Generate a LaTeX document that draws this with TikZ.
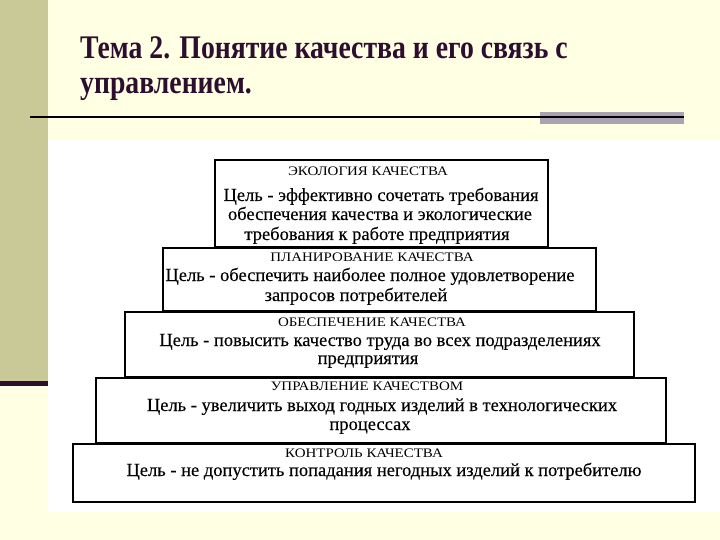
\documentclass[tikz,border=0pt]{standalone}
\usepackage{fontspec}
\setmainfont{Liberation Serif}
\newfontfamily\titlefont{Liberation Serif}[FakeStretch=0.84]
\newfontfamily\bodyfont{Liberation Serif}[FakeBold=0.2]
\newfontfamily\headfont{Liberation Serif}[FakeStretch=1.15]
\definecolor{pagebg}{HTML}{FFFFE3}
\definecolor{sidebar}{HTML}{C9C998}
\definecolor{darkplum}{HTML}{2E0E2E}
\definecolor{graybar}{HTML}{A9A2B2}
\tikzset{
  lvl/.style={draw=black, line width=2pt, fill=white, inner sep=0pt},
  headtxt/.style={anchor=base, inner sep=0pt, font=\headfont\fontsize{13}{15}\selectfont},
  bodytxt/.style={anchor=base, inner sep=0pt, font=\bodyfont\fontsize{18.5}{20}\selectfont},
  titletxt/.style={anchor=base west, inner sep=0pt, text=darkplum, font=\titlefont\bfseries\fontsize{33}{35}\selectfont}
}
\begin{document}
\begin{tikzpicture}[x=1pt, y=-1pt]
\useasboundingbox (0,0) rectangle (720,540);
% background
\fill[pagebg] (0,0) rectangle (720,540);
\fill[sidebar] (0,0) rectangle (48,381);
\fill[darkplum] (0,381) rectangle (48,386);
\fill[white] (48,140) rectangle (720,512);
% title rule
\fill[graybar] (540,112) rectangle (684,124);
\draw[line width=2pt, black] (30,117) -- (684,117);
% title
\node[titletxt] (t1) at (80,59) {Тема 2. Понятие качества и его связь с};
\node[titletxt] (t2) at (80,94) {управлением.};
% boxes
\draw[lvl] (215,160) rectangle (548,247);
\draw[lvl] (163,248) rectangle (596,311);
\draw[lvl] (125,312) rectangle (634,377);
\draw[lvl] (96,378) rectangle (666,443);
\draw[lvl] (73,444) rectangle (695,502);
% box 1
\node[headtxt] (h1) at (368,176) {ЭКОЛОГИЯ КАЧЕСТВА};
\node[bodytxt] (b1a) at (381,201) {Цель - эффективно сочетать требования};
\node[bodytxt] (b1b) at (380,220) {обеспечения качества и экологические};
\node[bodytxt] (b1c) at (377,240) {требования к работе предприятия};
% box 2
\node[headtxt] (h2) at (372,261) {ПЛАНИРОВАНИЕ КАЧЕСТВА};
\node[bodytxt] (b2a) at (370,281) {Цель - обеспечить наиболее полное удовлетворение};
\node[bodytxt] (b2b) at (356,301) {запросов потребителей};
% box 3
\node[headtxt] (h3) at (372,326) {ОБЕСПЕЧЕНИЕ КАЧЕСТВА};
\node[bodytxt] (b3a) at (380,346) {Цель - повысить качество труда во всех подразделениях};
\node[bodytxt] (b3b) at (368,364) {предприятия};
% box 4
\node[headtxt] (h4) at (367,390) {УПРАВЛЕНИЕ КАЧЕСТВОМ};
\node[bodytxt] (b4a) at (382,411) {Цель - увеличить выход годных изделий в технологических};
\node[bodytxt] (b4b) at (370,430) {процессах};
% box 5
\node[headtxt] (h5) at (364,457) {КОНТРОЛЬ КАЧЕСТВА};
\node[bodytxt] (b5a) at (384,476) {Цель - не допустить попадания негодных изделий к потребителю};
\end{tikzpicture}
\end{document}
